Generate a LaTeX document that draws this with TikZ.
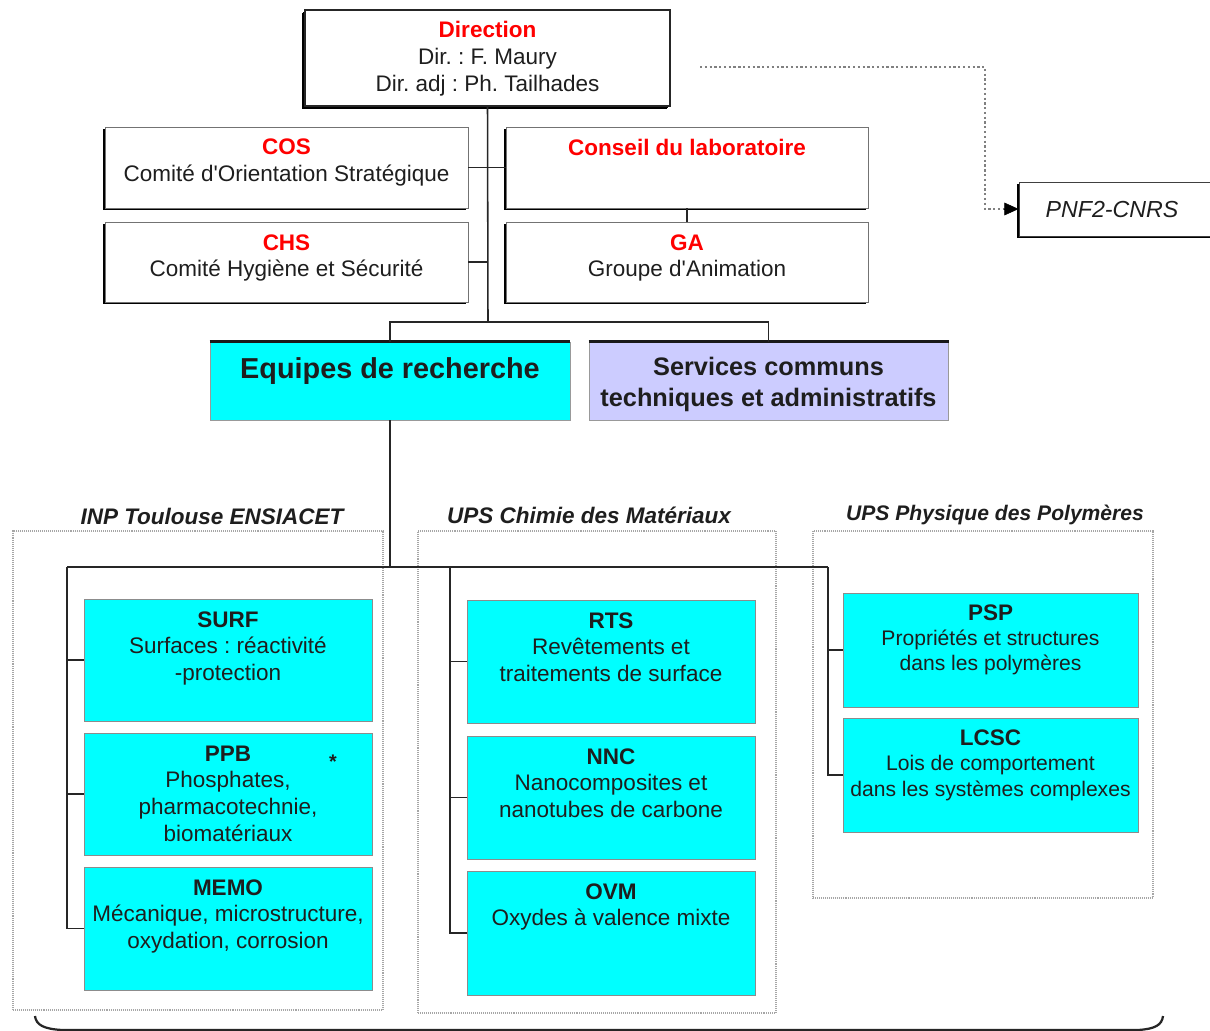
\documentclass[tikz,border=0pt]{standalone}
\usepackage{fontspec}
\setmainfont{Liberation Sans}[Ligatures=TeXOff]
\usetikzlibrary{fit,shadows,arrows.meta,calc}
\definecolor{myred}{HTML}{FF0000}
\definecolor{mycyan}{HTML}{00FFFF}
\definecolor{mylav}{HTML}{CCCCFF}
\definecolor{txtc}{HTML}{1E1E1E}
\begin{document}
\frenchspacing
\begin{tikzpicture}[x=0.025cm, y=-0.025cm,
  topbox/.style={draw=black!55, line width=0.7pt, fill=white, inner sep=0pt,
    drop shadow={shadow xshift=-1.5pt, shadow yshift=-1.6pt, fill=black, opacity=1}},
  dirbox/.style={topbox, draw=black!85, line width=0.9pt,
    drop shadow={shadow xshift=-2pt, shadow yshift=-2pt, fill=black, opacity=1}},
  teambox/.style={draw=black!45, line width=0.7pt, fill=mycyan, inner sep=0pt},
  grpbox/.style={draw=black!35, line width=1.3pt, dash pattern=on 0.7pt off 0.7pt, inner sep=0pt},
  lbl/.style={text=txtc, align=center, inner sep=0pt, anchor=north, font=\fontsize{16}{19}\selectfont},
  slbl/.style={lbl, font=\fontsize{15}{18}\selectfont},
  grplbl/.style={text=txtc, inner sep=0pt, font=\fontsize{16}{19}\selectfont\bfseries\itshape},
  conn/.style={draw=black!85, line width=1.1pt},
  busline/.style={draw=black!85, line width=1.8pt},
  dotconn/.style={draw=black!50, line width=2pt, dash pattern=on 1.6pt off 1.8pt},
  ttl/.style={text=myred}
]
\useasboundingbox (0,0) rectangle (1210,1031);

% group frames
\node[grpbox, fit={(13,531) (383,1010)}] (g1) {};
\node[grpbox, fit={(418,531) (776,1013)}] (g2) {};
\node[grpbox, fit={(813,531) (1153,898)}] (g3) {};
\node[grplbl] (g1l) at (212,516) {INP Toulouse ENSIACET};
\node[grplbl] (g2l) at (589,515) {UPS Chimie des Matériaux};
\node[grplbl, font=\fontsize{15}{18}\selectfont\bfseries\itshape] (g3l) at (995,515) {UPS Physique des Polymères};

% top boxes
\node[dirbox, fit={(305,10) (670,106)}] (dir) {};
\node[topbox, fit={(105,127) (468,208)}] (cos) {};
\node[topbox, fit={(506,127) (868,208)}] (cons) {};
\node[topbox, fit={(105,222) (468,302)}] (chs) {};
\node[topbox, fit={(506,222) (868,302)}] (ga) {};
\node[topbox, draw=black!75, fit={(1019,182) (1240,236)}] (pnf) {};

\node[lbl] (dirt) at ($(dir.north)+(0,12)$) {\textcolor{myred}{\bfseries Direction}\\Dir. : F. Maury\\Dir. adj : Ph. Tailhades};
\node[lbl] (cost) at ($(cos.north)+(0,12.5)$) {\textcolor{myred}{\bfseries COS}\\Comité d'Orientation Stratégique};
\node[lbl] (const) at ($(cons.north)+(0,12.5)$) {\textcolor{myred}{\bfseries Conseil du laboratoire}};
\node[lbl] (chst) at ($(chs.north)+(0,12.5)$) {\textcolor{myred}{\bfseries CHS}\\Comité Hygiène et Sécurité};
\node[lbl] (gat) at ($(ga.north)+(0,12.5)$) {\textcolor{myred}{\bfseries GA}\\Groupe d'Animation};
\node[text=txtc, inner sep=0pt, font=\fontsize{16.5}{19}\selectfont\itshape] (pnft) at (1112,210) {PNF2-CNRS};

% equipes / services
\node[draw=black!40, line width=0.7pt, fill=mycyan, inner sep=0pt, fit={(210,342) (570,420)}] (equ) {};
\node[draw=black!40, line width=0.7pt, fill=mylav, inner sep=0pt, fit={(589,342) (948,420)}] (serv) {};
\draw[line width=2pt, black!90] (equ.north west) -- (equ.north east);
\draw[line width=2pt, black!90] (serv.north west) -- (serv.north east);
\node[lbl, font=\fontsize{20.5}{24}\selectfont\bfseries] (equt) at ($(equ.north)+(0,16)$) {Equipes de recherche};
\node[lbl, font=\fontsize{18}{22}\selectfont\bfseries] (servt) at ($(serv.north)+(0,15.5)$) {Services communs\\techniques et administratifs};

% team boxes
\node[teambox, fit={(84,599) (372,721)}] (surf) {};
\node[teambox, fit={(84,733) (372,855)}] (ppb) {};
\node[teambox, fit={(84,867) (372,990)}] (memo) {};
\node[teambox, fit={(467,600) (755,723)}] (rts) {};
\node[teambox, fit={(467,736) (755,859)}] (nnc) {};
\node[teambox, fit={(467,871) (755,995)}] (ovm) {};
\node[teambox, fit={(843,593) (1138,707)}] (psp) {};
\node[teambox, fit={(843,718) (1138,832)}] (lcsc) {};

\node[lbl] (surft) at ($(surf.north)+(0,12.5)$) {\textbf{SURF}\\Surfaces : réactivité\\-protection};
\node[lbl] (ppbt) at ($(ppb.north)+(0,13)$) {\textbf{PPB}\\Phosphates,\\pharmacotechnie,\\biomatériaux};
\node[inner sep=0pt, font=\fontsize{14}{14}\selectfont\bfseries, text=txtc] (ast) at (333,762) {*};
\node[lbl] (memot) at ($(memo.north)+(0,12.5)$) {\textbf{MEMO}\\Mécanique, microstructure,\\oxydation, corrosion};
\node[lbl] (rtst) at ($(rts.north)+(0,12.5)$) {\textbf{RTS}\\Revêtements et\\traitements de surface};
\node[lbl] (nnct) at ($(nnc.north)+(0,12.5)$) {\textbf{NNC}\\Nanocomposites et\\nanotubes de carbone};
\node[lbl] (ovmt) at ($(ovm.north)+(0,12.5)$) {\textbf{OVM}\\Oxydes à valence mixte};
\node[slbl] (pspt) at ($(psp.north)+(0,11.5)$) {{\fontsize{16}{18}\selectfont\bfseries PSP}\\Propriétés et structures\\dans les polymères};
\node[slbl] (lcsct) at ($(lcsc.north)+(0,12)$) {{\fontsize{16}{18}\selectfont\bfseries LCSC}\\Lois de comportement\\dans les systèmes complexes};

% connectors top
\coordinate (j1) at (488,322);
\draw[conn] (dir.south) -- (j1);
\draw[conn] (cos.east) -- (cons.west);
\draw[conn] (chs.east) -- (chs.east -| dir.south);
\draw[conn] (cons.south) -- (ga.north);
\draw[conn] (equ.north) |- (j1) -| (serv.north);

% dotted link to PNF2
\coordinate (pstart) at (700,67);
\coordinate (pturn) at (985,67);
\draw[dotconn] (pstart) -- (pturn) |- ($(pnf.west)+(-14,0)$);
\draw[black, -{Triangle[length=10pt,width=9pt]}] ($(pnf.west)+(-15,0)$) -- (pnf.west);

% bus to teams
\coordinate (busL) at (67,567);
\coordinate (busM) at (450,567);
\coordinate (busR) at (828,567);
\draw[conn] (equ.south) -- (390,567);
\draw[busline] (busL) -- (busR);
\draw[conn] (busL) |- (memo.west);
\draw[conn] (surf.west -| busL) -- (surf.west);
\draw[conn] (ppb.west -| busL) -- (ppb.west);
\draw[conn] (busM) |- (ovm.west);
\draw[conn] (rts.west -| busM) -- (rts.west);
\draw[conn] (nnc.west -| busM) -- (nnc.west);
\draw[conn] (busR) |- (lcsc.west);
\draw[conn] (psp.west -| busR) -- (psp.west);

% bottom brace
\draw[black!85, line width=1.6pt] (35,1016) .. controls (36,1025) and (44,1029) .. (62,1030) -- (1138,1030) .. controls (1155,1029) and (1162,1025) .. (1163,1016);
\end{tikzpicture}
\end{document}
